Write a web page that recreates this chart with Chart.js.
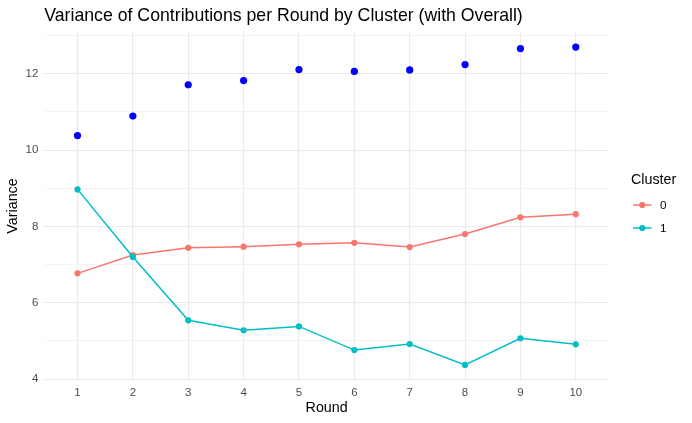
<!DOCTYPE html>
<html>
<head>
<meta charset="utf-8">
<script src="https://cdn.jsdelivr.net/npm/chart.js@4"></script>
<style>
html,body{margin:0;padding:0;background:#fff;}
#wrap{width:692px;height:423px;position:relative;}
</style>
</head>
<body>
<div id="wrap"><canvas id="c" width="692" height="423"></canvas></div>
<script>
const rounds = [1,2,3,4,5,6,7,8,9,10];
const overall = [10.38,10.89,11.71,11.82,12.11,12.06,12.10,12.24,12.66,12.70];
const cluster0 = [6.77,7.25,7.44,7.47,7.53,7.57,7.46,7.80,8.24,8.32];
const cluster1 = [8.97,7.20,5.54,5.28,5.38,4.76,4.92,4.37,5.07,4.91];
const yTicks = [4,5,6,7,8,9,10,11,12,13];
const yLabels = [4,6,8,10,12];
const seriesNames = ['0','1'];
const titleText = 'Variance of Contributions per Round by Cluster (with Overall)';

const FONT = '"Liberation Sans", Arial, Helvetica, sans-serif';
const RED = '#F8766D', TEAL = '#00BFC4', BLUE = '#0000FF';
const pts = arr => rounds.map((r,i)=>({x:r,y:arr[i]}));

const textPlugin = {
  id:'texts',
  afterDraw(chart){
    const ctx = chart.ctx, ca = chart.chartArea;
    ctx.save();
    ctx.fillStyle = '#000';
    ctx.font = '17.7px ' + FONT;
    ctx.textAlign = 'left'; ctx.textBaseline = 'alphabetic';
    ctx.fillText(titleText, ca.left, 21);
    ctx.font = '14.3px ' + FONT;
    ctx.textAlign = 'center'; ctx.textBaseline = 'middle';
    ctx.fillText('Round', (ca.left+ca.right)/2, 408);
    ctx.save();
    ctx.translate(13, (ca.top+ca.bottom)/2);
    ctx.rotate(-Math.PI/2);
    ctx.fillText('Variance', 0, 0);
    ctx.restore();
    // legend
    ctx.textAlign = 'left';
    ctx.fillText('Cluster', 631, 180);
    const cols = [RED, TEAL];
    const ys = [205, 228];
    ctx.font = '11.7px ' + FONT;
    for (let i=0;i<2;i++){
      ctx.strokeStyle = cols[i]; ctx.lineWidth = 1.5;
      ctx.beginPath(); ctx.moveTo(633, ys[i]); ctx.lineTo(651.5, ys[i]); ctx.stroke();
      ctx.fillStyle = cols[i];
      ctx.beginPath(); ctx.arc(642.3, ys[i], 3.1, 0, Math.PI*2); ctx.fill();
      ctx.fillStyle = '#000';
      ctx.fillText(seriesNames[i], 660, ys[i]+0.5);
    }
    ctx.restore();
  }
};

new Chart(document.getElementById('c'), {
  type:'line',
  data:{
    datasets:[
      {label:'Overall', data:pts(overall), showLine:false, pointRadius:3.6, pointBackgroundColor:BLUE, pointBorderWidth:0, borderColor:BLUE, order:2},
      {label:'0', data:pts(cluster0), borderColor:RED, borderWidth:1.5, pointRadius:3.1, pointBackgroundColor:RED, pointBorderWidth:0, tension:0, order:1},
      {label:'1', data:pts(cluster1), borderColor:TEAL, borderWidth:1.5, pointRadius:3.1, pointBackgroundColor:TEAL, pointBorderWidth:0, tension:0, order:0}
    ]
  },
  options:{
    responsive:false, animation:false, devicePixelRatio:1,
    layout:{padding:{top:31, right:83, left:0, bottom:0}},
    plugins:{legend:{display:false}, title:{display:false}, tooltip:{enabled:false}},
    scales:{
      x:{
        type:'linear', min:0.4, max:10.6,
        afterBuildTicks(s){ s.ticks = rounds.map(v=>({value:v})); },
        afterFit(s){ s.height = 42; },
        grid:{color:'#EBEBEB', lineWidth:1.1, drawTicks:false},
        border:{display:false},
        ticks:{color:'#4D4D4D', font:{family:FONT, size:11.5}, padding:5, maxRotation:0, autoSkip:false}
      },
      y:{
        type:'linear', min:3.95, max:13.12,
        afterBuildTicks(s){ s.ticks = yTicks.map(v=>({value:v})); },
        afterFit(s){ s.width = 44.3; },
        grid:{color:'#EBEBEB', lineWidth:c=> (yLabels.includes(c.tick && c.tick.value) ? 1.1 : 0.55), drawTicks:false},
        border:{display:false},
        ticks:{color:'#4D4D4D', font:{family:FONT, size:11.5}, padding:6, autoSkip:false,
          callback:v=> yLabels.includes(v) ? String(v) : ''}
      }
    }
  },
  plugins:[textPlugin]
});
</script>
</body>
</html>
